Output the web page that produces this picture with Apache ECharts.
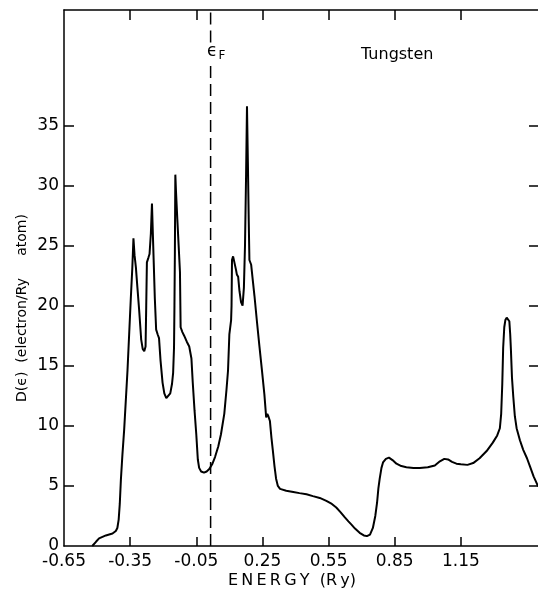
<!DOCTYPE html>
<html>
<head>
<meta charset="utf-8">
<script src="https://cdn.jsdelivr.net/npm/echarts@6/dist/echarts.min.js"></script>
<style>
html,body{margin:0;padding:0;background:#fff;}
#c{width:538px;height:594px;background:#fff;}
</style>
</head>
<body>
<div id="c"></div>
<script>
// Energy (Ry) and density of states D(e) (electron/Ry atom)
const energy = [
  -0.522,-0.505,-0.491,-0.46,-0.43,-0.415,-0.408,-0.402,-0.397,-0.392,-0.385,-0.377,-0.362,-0.347,-0.340,-0.335,
  -0.330,-0.324,-0.317,-0.309,-0.300,-0.293,-0.286,-0.280,-0.277,-0.274,-0.267,-0.262,-0.256,-0.251,-0.247,-0.243,
  -0.238,-0.232,-0.225,-0.219,-0.212,-0.203,-0.195,-0.186,-0.177,-0.168,-0.160,-0.155,-0.151,-0.149,-0.147,-0.145,
  -0.142,-0.136,-0.130,-0.124,-0.121,-0.113,-0.105,-0.093,-0.082,-0.072,-0.066,-0.058,-0.050,-0.043,-0.037,-0.028,
  -0.015,-0.003,0.009,0.022,0.035,0.050,0.062,0.077,0.087,0.094,0.100,0.108,0.110,0.112,0.117,0.124,
  0.130,0.134,0.140,0.146,0.153,0.160,0.166,0.171,0.176,0.180,0.184,0.188,0.191,0.199,0.207,0.214,
  0.225,0.236,0.248,0.259,0.267,0.272,0.277,0.284,0.291,0.297,0.305,0.312,0.320,0.330,0.358,0.390,
  0.418,0.450,0.479,0.510,0.540,0.565,0.585,0.605,0.623,0.640,0.653,0.670,0.691,0.710,0.724,0.738,
  0.751,0.762,0.770,0.776,0.782,0.790,0.797,0.810,0.824,0.840,0.858,0.880,0.903,0.935,0.964,1.000,
  1.032,1.055,1.075,1.092,1.110,1.130,1.150,1.180,1.206,1.235,1.267,1.295,1.315,1.327,1.333,1.338,
  1.342,1.347,1.352,1.358,1.365,1.370,1.374,1.377,1.382,1.388,1.395,1.403,1.418,1.433,1.450,1.464,
  1.480,1.497,1.500
];
const dos = [
  0,0.35,0.63,0.88,1.04,1.25,1.5,2.2,3.5,5.5,7.6,9.7,14.6,20.6,23.2,25.6,
  24.2,23.2,21.5,19.6,17.2,16.4,16.2,16.6,20.0,23.6,24.0,24.3,26.0,28.5,26.0,23.6,
  20.6,18.0,17.6,17.3,15.4,13.6,12.7,12.3,12.3,12.7,13.5,14.4,16.5,20.0,24.5,30.9,
  29.5,27.2,25.0,22.8,18.2,17.8,17.5,17.0,16.6,15.6,13.6,11.3,9.3,7.2,6.5,6.2,
  6.1,6.2,6.4,6.8,7.4,8.3,9.3,11.0,13.0,14.6,17.6,18.8,20.0,23.8,24.1,24.0,
  23.0,22.6,22.4,21.2,20.3,20.0,21.5,25.0,31.0,36.6,32.0,27.0,23.8,23.4,22.0,20.8,
  18.7,16.7,14.6,12.6,10.7,11.0,10.8,10.4,9.0,8.0,6.6,5.6,5.0,4.75,4.6,4.5,
  4.4,4.3,4.15,4.0,3.75,3.5,3.2,2.8,2.4,2.05,1.8,1.45,1.1,0.88,0.82,0.95,
  1.5,2.5,3.6,4.8,5.6,6.5,6.95,7.25,7.35,7.15,6.85,6.65,6.55,6.5,6.5,6.55,
  6.7,7.05,7.25,7.2,7.0,6.85,6.8,6.75,6.9,7.3,7.9,8.6,9.2,9.8,11.0,13.5,
  16.5,18.2,18.8,19.0,18.95,18.7,17.6,16.4,14.0,12.4,10.8,9.8,8.8,8.0,7.3,6.6,
  5.8,5.1,4.95
];
const xLabelValues = [-0.65,-0.35,-0.05,0.25,0.55,0.85,1.15];
const xTickValues = [-0.35,-0.05,0.25,0.55,0.85,1.15];
const xTopTickValues = [-0.35,-0.05,0.25,0.55,0.85,1.15];
const yLabelValues = [0,5,10,15,20,25,30,35];
const yTickValues = [5,10,15,20,25,30,35];
const yRightTickValues = [5,10,15,20,25,30,35];
const fermiEnergy = 0.015;
// Fermi-level dashed line, broken where the label sits
const fermiLineY = [0, 40.2, '-', 41.9, 44.6];

const FONT = 'DejaVu Sans';
const chart = echarts.init(document.getElementById('c'));
const seriesData = energy.map((e,i)=>[e,dos[i]]);
const fermiData = fermiLineY.map(y=>[fermiEnergy,y]);
const X_MIN=-0.65, X_MAX=1.5, Y_MIN=0, Y_MAX=44.6;

chart.setOption({
  animation:false,
  title:[
    {text:'Tungsten', left:361, top:47, padding:0,
     textStyle:{fontSize:16, fontFamily:FONT, color:'#000', fontWeight:'normal'}},
    {text:'{e|ϵ}{f|F}', left:207, top:42, padding:0,
     textStyle:{color:'#000', fontWeight:'normal',
       rich:{e:{fontSize:17, fontFamily:FONT, color:'#000'}, f:{fontSize:12, fontFamily:FONT, color:'#000', padding:[8,0,0,1]}}}}
  ],
  grid:{left:64, right:0, top:10, bottom:42},
  xAxis:[
    {type:'value', position:'bottom', min:X_MIN, max:X_MAX,
     name:'E\u2009N\u2009E\u2009R\u2009G\u2009Y  (R\u2009y)', nameLocation:'middle', nameGap:27, nameMoveOverlap:false,
     nameTextStyle:{fontSize:16, fontFamily:FONT, color:'#000', padding:[0,18,0,0]},
     axisLine:{show:true, onZero:false, lineStyle:{color:'#000', width:1.5}},
     axisTick:{show:true, inside:true, length:9, customValues:xTickValues, lineStyle:{color:'#000', width:1.5}},
     axisLabel:{show:true, customValues:xLabelValues, margin:7, color:'#000', fontFamily:FONT, fontSize:17,
       formatter:v=>Number(v).toFixed(2)},
     splitLine:{show:false}},
    {type:'value', position:'top', min:X_MIN, max:X_MAX,
     axisLine:{show:true, onZero:false, lineStyle:{color:'#000', width:1.5}},
     axisTick:{show:true, inside:true, length:10, customValues:xTopTickValues, lineStyle:{color:'#000', width:1.5}},
     axisLabel:{show:false}, splitLine:{show:false}}
  ],
  yAxis:[
    {type:'value', position:'left', min:Y_MIN, max:Y_MAX,
     name:'D(ϵ)  (electron/Ry     atom)', nameLocation:'middle', nameRotate:90, nameGap:35, nameMoveOverlap:false,
     nameTextStyle:{fontSize:14, fontFamily:FONT, color:'#000', padding:[0,60,0,0]},
     axisLine:{show:true, onZero:false, lineStyle:{color:'#000', width:1.5}},
     axisTick:{show:true, inside:true, length:10, customValues:yTickValues, lineStyle:{color:'#000', width:1.5}},
     axisLabel:{show:true, customValues:yLabelValues, margin:5, color:'#000', fontFamily:FONT, fontSize:17},
     splitLine:{show:false}},
    {type:'value', position:'right', min:Y_MIN, max:Y_MAX,
     axisLine:{show:false, onZero:false},
     axisTick:{show:true, inside:true, length:9, customValues:yRightTickValues, lineStyle:{color:'#000', width:1.5}},
     axisLabel:{show:false}, splitLine:{show:false}}
  ],
  series:[
    {type:'line', data:seriesData, showSymbol:false, smooth:false,
     lineStyle:{color:'#000', width:2}},
    {type:'line', data:fermiData, showSymbol:false, connectNulls:false,
     lineStyle:{color:'#000', width:1.5, type:[12,6]}}
  ]
});
</script>
</body>
</html>
